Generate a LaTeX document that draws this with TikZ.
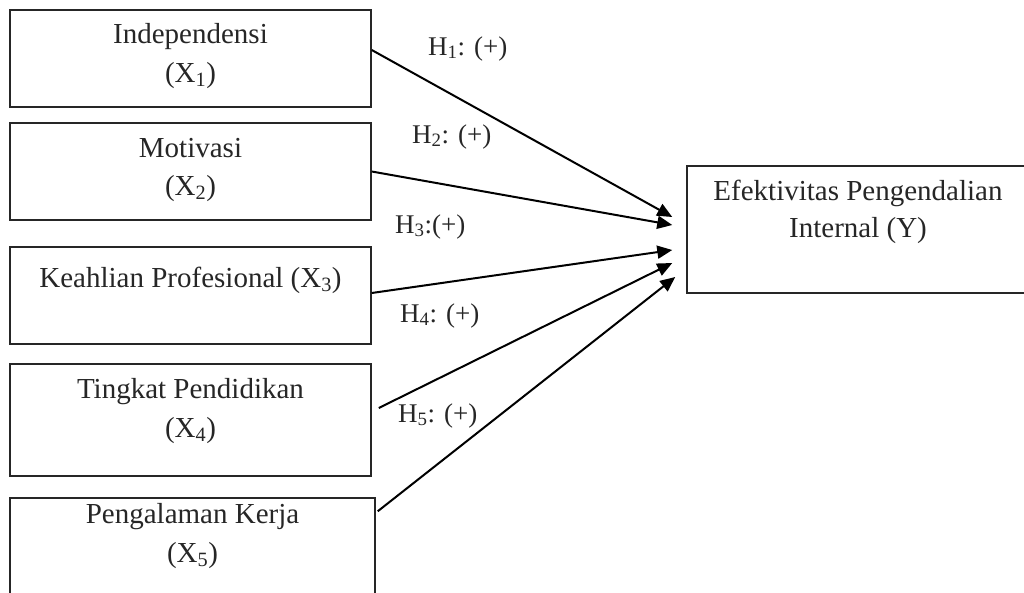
\documentclass[tikz,border=0pt]{standalone}
\usepackage{fontspec}
\setmainfont{Liberation Serif}
\usetikzlibrary{arrows.meta}
\begin{document}
\begin{tikzpicture}[x=1pt,y=-1pt,
  box/.style={draw=black!85,line width=1.5pt,rectangle,inner sep=0pt},
  txt/.style={font=\fontsize{29}{36}\selectfont,anchor=base,inner sep=0pt,text=black!85},
  lab/.style={font=\fontsize{27}{34}\selectfont,anchor=base west,inner sep=0pt,text=black!85},
  arr/.style={line width=2pt,-{Triangle[length=15pt,width=13pt]}}]
\clip (0,0) rectangle (1024,592);
\useasboundingbox (0,0) rectangle (1024,592);
% boxes
\node[box,minimum width=361pt,minimum height=97pt] (x1) at (190.5,58.5) {};
\node[box,minimum width=361pt,minimum height=97pt] (x2) at (190.5,171.5) {};
\node[box,minimum width=361pt,minimum height=97pt] (x3) at (190.5,295.5) {};
\node[box,minimum width=361pt,minimum height=112pt] (x4) at (190.5,420) {};
\node[box,minimum width=365pt,minimum height=110pt] (x5) at (192.5,553) {};
\node[box,minimum width=360pt,minimum height=127pt] (y) at (867,229.5) {};
% texts
\node[txt] (t1a) at (190.5,43) {Independensi};
\node[txt] (t1b) at (190.5,82) {(X\textsubscript{1})};
\node[txt] (t2a) at (190.5,157) {Motivasi};
\node[txt] (t2b) at (190.5,195) {(X\textsubscript{2})};
\node[txt] (t3a) at (190.5,287) {Keahlian Profesional (X\textsubscript{3})};
\node[txt] (t4a) at (190.5,398) {Tingkat Pendidikan};
\node[txt] (t4b) at (190.5,437) {(X\textsubscript{4})};
\node[txt] (t5a) at (192.5,523) {Pengalaman Kerja};
\node[txt] (t5b) at (192.5,562) {(X\textsubscript{5})};
\node[txt] (tya) at (858,200) {Efektivitas Pengendalian};
\node[txt] (tyb) at (858,237) {Internal (Y)};
% labels
\node[lab] (h1) at (428,55) {H\textsubscript{1}: (+)};
\node[lab] (h2) at (412,143) {H\textsubscript{2}: (+)};
\node[lab] (h3) at (395,233) {H\textsubscript{3}:(+)};
\node[lab] (h4) at (400,322) {H\textsubscript{4}: (+)};
\node[lab] (h5) at (398,422) {H\textsubscript{5}: (+)};
% arrows
\draw[arr] ([yshift=8.5pt]x1.east) -- ([xshift=-14pt,yshift=12.5pt]y.west);
\draw[arr] (x2.east) -- ([xshift=-14pt,yshift=4.5pt]y.west);
\draw[arr] ([yshift=2.5pt]x3.east) -- ([xshift=-14pt,yshift=-20.5pt]y.west);
\draw[arr] ([xshift=7pt,yshift=12pt]x4.east) -- ([xshift=-14pt,yshift=-33.5pt]y.west);
\draw[arr] ([xshift=2pt,yshift=-14pt]x5.north east) -- ([xshift=-11pt,yshift=-47.5pt]y.west);
\end{tikzpicture}
\end{document}
